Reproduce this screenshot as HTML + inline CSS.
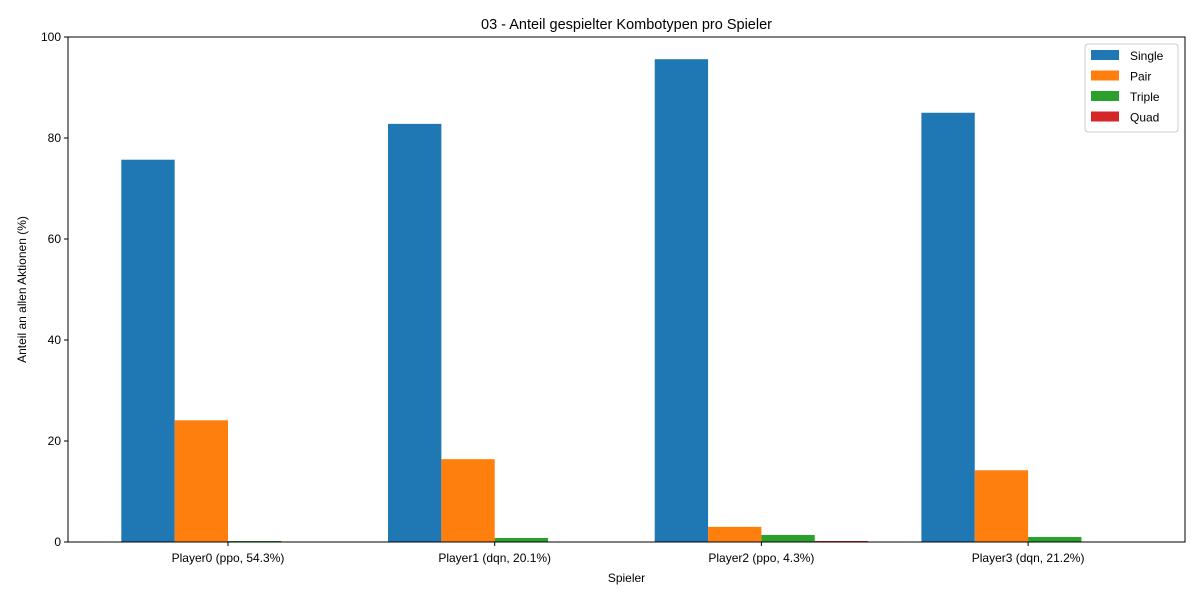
<!DOCTYPE html>
<html><head><meta charset="utf-8"><style>
body{margin:0;background:#fff;}
svg text{font-family:"Liberation Sans","DejaVu Sans",sans-serif;fill:#000;}
</style></head><body>
<svg id="chart" width="1200" height="600" xmlns="http://www.w3.org/2000/svg"></svg>
<script>
const categories = ["Player0 (ppo, 54.3%)","Player1 (dqn, 20.1%)","Player2 (ppo, 4.3%)","Player3 (dqn, 21.2%)"];
const seriesNames = ["Single","Pair","Triple","Quad"];
const single = [75.7, 82.8, 95.6, 85.0];
const pair = [24.1, 16.4, 3.0, 14.2];
const triple = [0.2, 0.8, 1.4, 1.0];
const quad = [0.0, 0.0, 0.2, 0.0];
const yTicks = [0, 20, 40, 60, 80, 100];
const colors = ["#1f77b4","#ff7f0e","#2ca02c","#d62728"];
const series = [single, pair, triple, quad];

const svg = document.getElementById('chart');
const NS = "http://www.w3.org/2000/svg";
const L=68, R=1185, T=37, B=542;
const yMax=100;
function y(v){return B-(v/yMax)*(B-T);}
const unit=266.7;
function xc(i){return 228+unit*i;}
const barW=unit*0.2;
function mk(tag, attrs){const e=document.createElementNS(NS,tag);for(const k in attrs)e.setAttribute(k,attrs[k]);svg.appendChild(e);return e;}

series.forEach((vals,s)=>{
  vals.forEach((v,i)=>{
    const x=xc(i)-2*barW+s*barW;
    const r=mk('rect',{x:x,y:y(v),width:barW,height:B-y(v),fill:colors[s]});
    
    
  });
});

const frame=mk('rect',{x:L,y:T,width:R-L,height:B-T,fill:'none',stroke:'#000','stroke-width':1});



yTicks.forEach(t=>{
  mk('line',{x1:L-4,x2:L,y1:y(t),y2:y(t),stroke:'#000'});
  const tx=mk('text',{x:L-7,y:y(t)+4,'text-anchor':'end','font-size':12});
  tx.textContent=t;
  
  
});
categories.forEach((c,i)=>{
  mk('line',{x1:xc(i),x2:xc(i),y1:B,y2:B+4,stroke:'#000'});
  const tx=mk('text',{x:xc(i),y:B+20,'text-anchor':'middle','font-size':12});
  tx.textContent=c;
  
  
});

const title=mk('text',{x:(L+R)/2,y:29,'text-anchor':'middle','font-size':14.5});
title.textContent="03 - Anteil gespielter Kombotypen pro Spieler";


const xl=mk('text',{x:(L+R)/2,y:582,'text-anchor':'middle','font-size':12});
xl.textContent="Spieler";


const yl=mk('text',{x:0,y:0,'text-anchor':'middle','font-size':12,transform:'translate(26,'+((T+B)/2)+') rotate(-90)'});
yl.textContent="Anteil an allen Aktionen (%)";



const lg=mk('rect',{x:1085,y:44,width:93,height:88,fill:'#fff',stroke:'#ccc',rx:3});


seriesNames.forEach((n,s)=>{
  const yy=50+s*20.5;
  mk('rect',{x:1091,y:yy,width:28,height:10,fill:colors[s]});
  const tx=mk('text',{x:1130,y:yy+10,'font-size':12});
  tx.textContent=n;
  
  
});
</script>
</body></html>
